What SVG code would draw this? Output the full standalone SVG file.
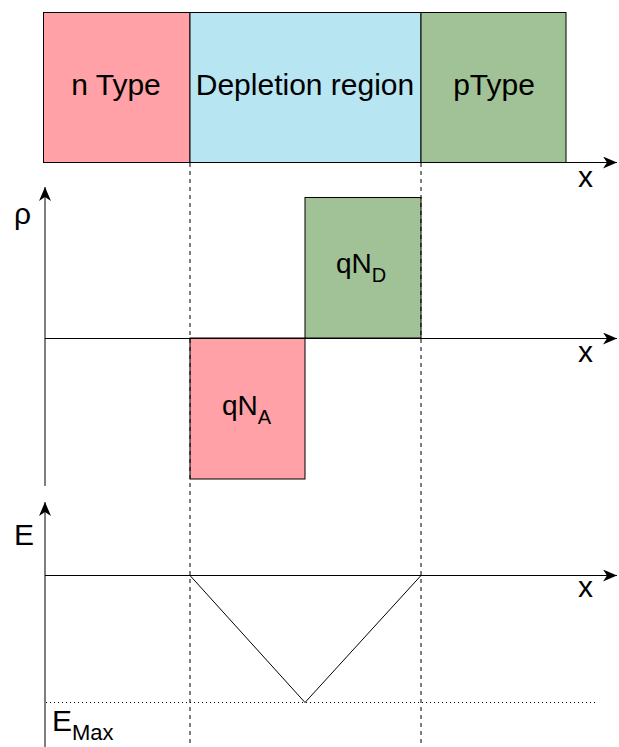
<svg xmlns="http://www.w3.org/2000/svg" width="619" height="747" viewBox="0 0 619 747">
<style>
.lbl{font-family:"Liberation Sans",Arial,sans-serif;fill:#000}
.box{stroke:#000;stroke-width:1}
.ax{stroke:#000;stroke-width:1;fill:none}
.dash{stroke:#000;stroke-width:1;stroke-dasharray:4 4;fill:none}
.dot{stroke:#000;stroke-width:1;stroke-dasharray:1 3;fill:none}
</style>
<defs>
<marker id="arr" markerWidth="15" markerHeight="12" refX="14" refY="6" orient="auto" markerUnits="userSpaceOnUse">
<path d="M0,0 L14,6 L0,12 L4,6 Z" fill="#000"/>
</marker>
</defs>
<rect width="619" height="747" fill="#fff"/>
<g id="ntype">
<rect class="box" x="43.5" y="12.5" width="146.5" height="150" fill="#ffa1a6"/>
<text class="lbl" x="116" y="95" font-size="30" text-anchor="middle">n Type</text>
</g>
<g id="depletion">
<rect class="box" x="190" y="12.5" width="231" height="150" fill="#b7e6f2"/>
<text class="lbl" x="305" y="95" font-size="30" text-anchor="middle">Depletion region</text>
</g>
<g id="ptype">
<rect class="box" x="421" y="12.5" width="145" height="150" fill="#a1c196"/>
<text class="lbl" x="494" y="95" font-size="30" text-anchor="middle">pType</text>
</g>
<g id="qND">
<rect class="box" x="305" y="197.5" width="116" height="140.5" fill="#a1c196"/>
<text class="lbl" x="336" y="273" font-size="28">qN<tspan font-size="20" dy="9">D</tspan></text>
</g>
<g id="qNA">
<rect class="box" x="190" y="338" width="115" height="141" fill="#ffa1a6"/>
<text class="lbl" x="222" y="415" font-size="28">qN<tspan font-size="20" dy="9">A</tspan></text>
</g>
<g id="connectors">
<line class="dash" x1="190" y1="163" x2="190" y2="747"/>
<line class="dash" x1="421" y1="163" x2="421" y2="747"/>
<line class="ax" x1="44" y1="162.5" x2="617" y2="162.5" marker-end="url(#arr)"/>
<line class="ax" x1="45" y1="486" x2="45" y2="187" marker-end="url(#arr)"/>
<line class="ax" x1="45" y1="338.5" x2="617" y2="338.5" marker-end="url(#arr)"/>
<line class="ax" x1="45" y1="747" x2="45" y2="502" marker-end="url(#arr)"/>
<line class="ax" x1="45" y1="575.5" x2="617" y2="575.5" marker-end="url(#arr)"/>
<polyline class="ax" points="190,575.5 305,702.5 421,575.5"/>
<line class="dot" x1="46" y1="702.5" x2="597" y2="702.5"/>
</g>
<g id="labels">
<text class="lbl" x="578" y="187" font-size="30">x</text>
<text class="lbl" x="578" y="362" font-size="30">x</text>
<text class="lbl" x="578" y="597" font-size="30">x</text>
<text class="lbl" x="14" y="224" font-size="30">ρ</text>
<text class="lbl" x="14" y="545" font-size="30">E</text>
<text class="lbl" x="52" y="731" font-size="30">E<tspan font-size="22" dy="9">Max</tspan></text>
</g>
</svg>
